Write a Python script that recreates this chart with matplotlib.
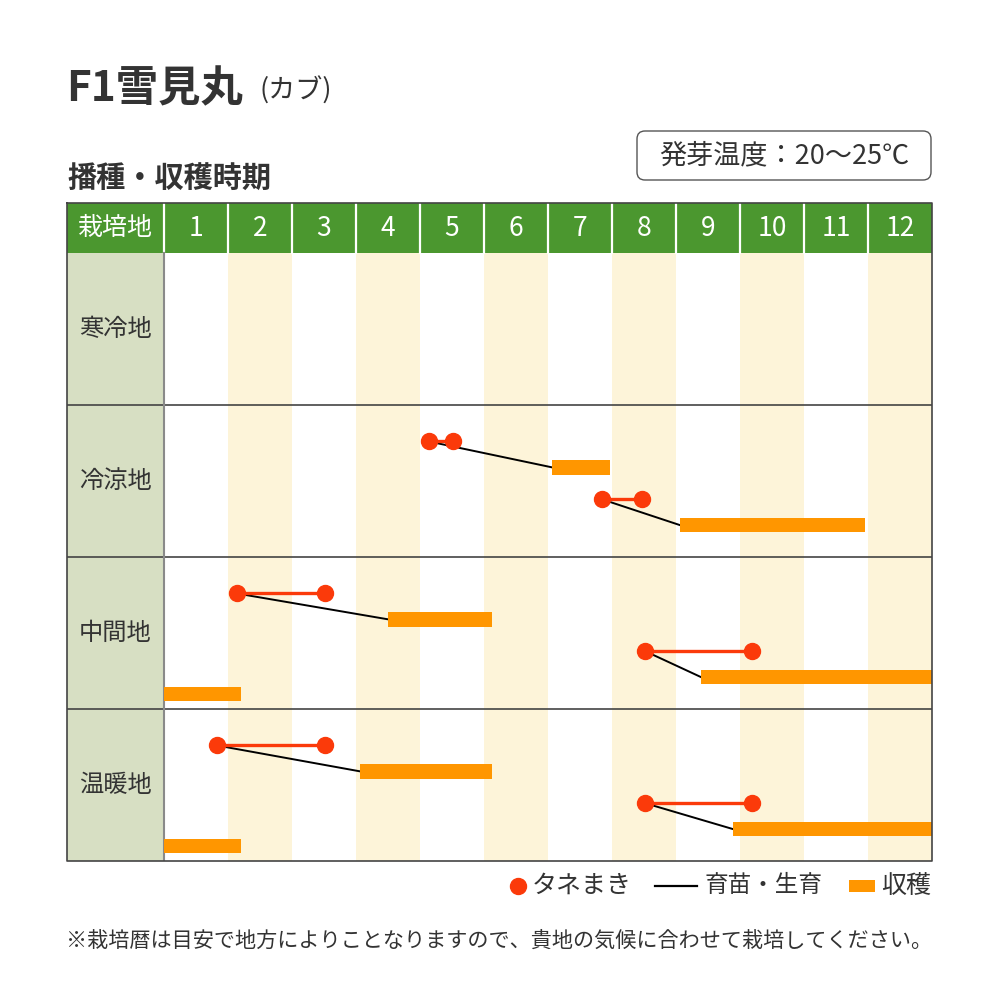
import matplotlib
matplotlib.use("Agg")
import matplotlib.pyplot as plt
from matplotlib.patches import Rectangle, FancyBboxPatch

plt.rcParams['font.family'] = ['Noto Sans CJK JP', 'DejaVu Sans']

# data (months: 0 = start of Jan, 12 = end of Dec)
months = [str(m) for m in range(1, 13)]
regions = ["寒冷地", "冷涼地", "中間地", "温暖地"]
lanes = [0.24, 0.41, 0.62, 0.79, 0.90]

# (region index, sow start, sow end, harvest start, harvest end, lane of sowing)
schedules = [
    (1, 4.14, 4.52, 6.06, 6.97, 0),
    (1, 6.84, 7.47, 8.06, 10.95, 2),
    (2, 1.14, 2.52, 3.50, 5.13, 0),
    (2, 7.52, 9.19, 8.39, 12.0, 2),
    (3, 0.83, 2.52, 3.06, 5.13, 0),
    (3, 7.52, 9.19, 8.89, 12.0, 2),
]
# harvest only (carried over from previous year): region, start, end, lane
carry_over = [
    (2, 0.0, 1.2, 4),
    (3, 0.0, 1.2, 4),
]

GREEN = '#4b972f'
CREAM = '#fdf4d9'
SIDE = '#d7dfc3'
RED = '#fb3a0a'
ORANGE = '#ff9600'
TXT = '#333333'
LINE = '#444444'

fig = plt.figure(figsize=(10, 10), dpi=100)
fig.patch.set_facecolor('white')

label_w = 97 / 64
head_h = 50 / 152
ax = fig.add_axes([0.067, 0.139, 0.865, 0.658])
ax.set_xlim(-label_w, 12)
ax.set_ylim(4, -head_h)
ax.axis('off')

# column shading
for i in range(12):
    if i % 2 == 1:
        ax.add_patch(Rectangle((i, 0), 1, 4, facecolor=CREAM, edgecolor='none', zorder=0))
# side column
ax.add_patch(Rectangle((-label_w, 0), label_w, 4, facecolor=SIDE, edgecolor='none', zorder=0))
# header
ax.add_patch(Rectangle((-label_w, -head_h), label_w + 12, head_h, facecolor=GREEN, edgecolor='none', zorder=1))
for i in range(12):
    ax.plot([i, i], [-head_h, 0], color='white', lw=1.6, zorder=2)
    ax.text(i + 0.5, -head_h / 2, months[i], color='white', fontsize=19,
            ha='center', va='center', zorder=3)
ax.text(-label_w / 2, -head_h / 2, "栽培地", color='white', fontsize=18,
        ha='center', va='center', zorder=3)

# row lines and labels
for r, name in enumerate(regions):
    ax.text(-label_w / 2, r + 0.5, name, color=TXT, fontsize=17.5,
            ha='center', va='center', zorder=3)
    if r > 0:
        ax.plot([-label_w, 12], [r, r], color=LINE, lw=1.2, zorder=2)
ax.plot([0, 0], [0, 4], color='#8a8a8a', lw=1.5, zorder=2)
ax.plot([-label_w, 12, 12, -label_w, -label_w], [-head_h, -head_h, 4, 4, -head_h],
        color=LINE, lw=1.2, zorder=6, clip_on=False)

bar_h = 0.095
for r, s0, s1, h0, h1, ln in schedules:
    ys = r + lanes[ln]
    yh = r + lanes[ln + 1]
    ax.plot([s0, h0], [ys, yh], color='black', lw=1.4, zorder=3)
    ax.add_patch(Rectangle((h0, yh - bar_h / 2), h1 - h0, bar_h,
                           facecolor=ORANGE, edgecolor='none', zorder=3))
    ax.plot([s0, s1], [ys, ys], color=RED, lw=2.4, zorder=4)
    ax.plot([s0, s1], [ys, ys], 'o', color=RED, ms=11.5, zorder=5)
for r, h0, h1, ln in carry_over:
    yh = r + lanes[ln]
    ax.add_patch(Rectangle((h0, yh - bar_h / 2), h1 - h0, bar_h,
                           facecolor=ORANGE, edgecolor='none', zorder=3))

# titles
fig.text(0.066, 0.911, "F1雪見丸", fontsize=30.5, color=TXT, fontweight='bold', va='center')
fig.text(0.260, 0.909, "(カブ)", fontsize=19.5, color=TXT, va='center')
fig.text(0.067, 0.822, "播種・収穫時期", fontsize=21, color=TXT, fontweight='bold', va='center')

box = FancyBboxPatch((0.637, 0.820), 0.294, 0.049, boxstyle="round,pad=0,rounding_size=0.008",
                     transform=fig.transFigure, facecolor='white', edgecolor='#555555', lw=1.0)
fig.patches.append(box)
fig.text(0.784, 0.844, "発芽温度：20〜25℃", fontsize=19.5, color=TXT, ha='center', va='center')

# legend
fig.lines.append(plt.Line2D([0.518], [0.114], marker='o', ms=11.5, color=RED, lw=0,
                            transform=fig.transFigure))
fig.text(0.532, 0.114, "タネまき", fontsize=18, color=TXT, va='center')
fig.lines.append(plt.Line2D([0.655, 0.697], [0.114, 0.114], color='black', lw=1.6,
                            transform=fig.transFigure))
fig.text(0.705, 0.114, "育苗・生育", fontsize=17, color=TXT, va='center')
fig.patches.append(Rectangle((0.849, 0.108), 0.026, 0.012, facecolor=ORANGE, edgecolor='none',
                             transform=fig.transFigure))
fig.text(0.881, 0.114, "収穫", fontsize=18, color=TXT, va='center')

fig.text(0.932, 0.059, "※栽培暦は目安で地方によりことなりますので、貴地の気候に合わせて栽培してください。",
         fontsize=15.2, color=TXT, ha='right', va='center')

fig.savefig("out.png", dpi=100, facecolor='white')
